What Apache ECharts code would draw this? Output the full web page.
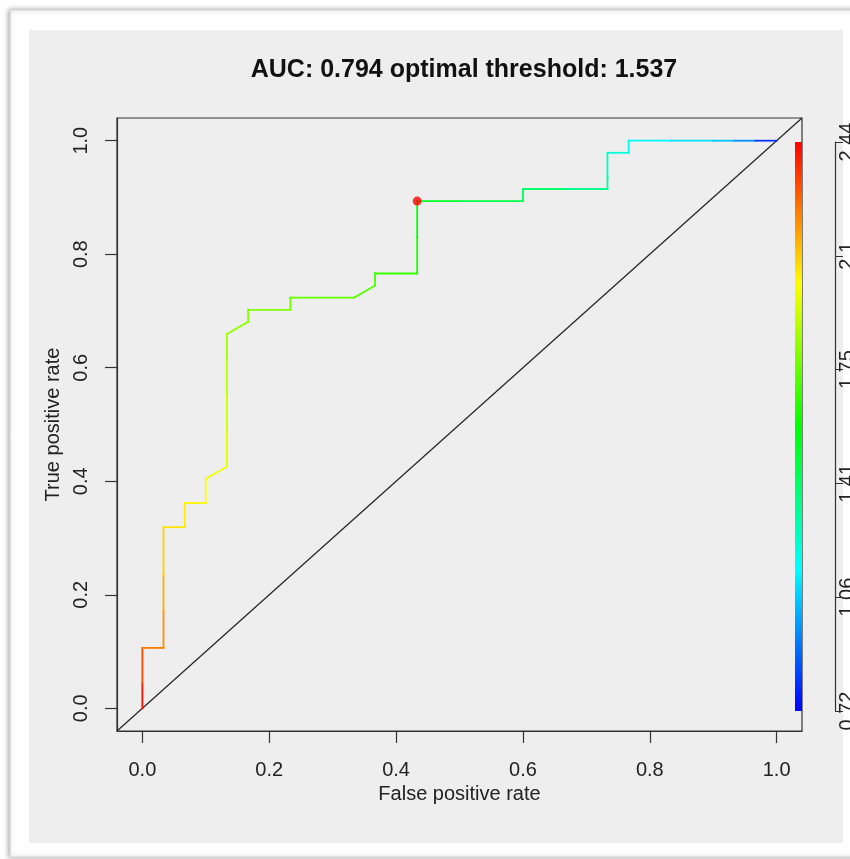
<!DOCTYPE html>
<html><head><meta charset="utf-8">
<script src="https://cdn.jsdelivr.net/npm/echarts@6/dist/echarts.min.js"></script>
<style>html,body{margin:0;padding:0;background:#fff;}#c{width:850px;height:859px;}</style>
</head><body><div id="c"></div>
<script>
const titleText = 'AUC: 0.794 optimal threshold: 1.537';
const xName = 'False positive rate';
const yName = 'True positive rate';
const axisTicks = [0, 0.2, 0.4, 0.6, 0.8, 1.0];
// ROC curve points (false positive rate, true positive rate, cutoff)
const fpr = [0, 0, 0, 0.0333, 0.0333, 0.0333, 0.0333, 0.0667, 0.0667, 0.1, 0.1, 0.1333, 0.1333, 0.1333, 0.1333, 0.1333, 0.1667, 0.1667, 0.2333, 0.2333, 0.3333, 0.3667, 0.3667, 0.4333, 0.4333, 0.4333, 0.5, 0.6, 0.6, 0.6667, 0.7333, 0.7333, 0.7333, 0.7667, 0.7667, 0.8333, 0.9, 0.9333, 0.9667, 1];
const tpr = [0, 0.0426, 0.1064, 0.1064, 0.1702, 0.234, 0.3191, 0.3191, 0.3617, 0.3617, 0.4043, 0.4255, 0.4894, 0.5532, 0.617, 0.6596, 0.6809, 0.7021, 0.7021, 0.7234, 0.7234, 0.7447, 0.766, 0.766, 0.8298, 0.8936, 0.8936, 0.8936, 0.9149, 0.9149, 0.9149, 0.9362, 0.9787, 0.9787, 1, 1, 1, 1, 1, 1];
const cutoff = [2.44, 2.40, 2.25, 2.22, 2.17, 2.12, 2.06, 2.05, 2.03, 2.02, 2.00, 1.98, 1.95, 1.91, 1.87, 1.84, 1.82, 1.80, 1.78, 1.76, 1.73, 1.71, 1.69, 1.66, 1.60, 1.537, 1.50, 1.44, 1.42, 1.38, 1.32, 1.29, 1.24, 1.20, 1.17, 1.12, 1.08, 1.02, 0.90, 0.72];
const optimalPoint = [0.4333, 0.8936];
const cutoffRange = [0.72, 2.44];
const colorTickValues = [0.72, 1.064, 1.408, 1.752, 2.096, 2.44];
const colorTickLabels = ['0.72', '1.06', '1.41', '1.75', '2.1', '2.44'];
const diagonal = [[-0.04, -0.04], [1.04, 1.04]];
const palette = ['#0000FF', '#00FFFF', '#00FF00', '#FFFF00', '#FF0000'];

const segments = [];
for (let i = 0; i < fpr.length - 1; i++) {
  segments.push([fpr[i], tpr[i], fpr[i + 1], tpr[i + 1], (cutoff[i] + cutoff[i + 1]) / 2]);
}

const FONT = "'Liberation Sans', Arial, Helvetica, sans-serif";
const chart = echarts.init(document.getElementById('c'), null, {renderer: 'canvas'});
const labelFmt = v => Number(v).toFixed(1);
const colorLabelFmt = v => {
  const i = colorTickValues.findIndex(t => Math.abs(t - v) < 1e-6);
  return i >= 0 ? colorTickLabels[i] : '';
};
// gradient stops: palette from bottom (min) to top (max)
const barStops = palette.map((c, i) => ({offset: 1 - i / (palette.length - 1), color: c}));

chart.setOption({
  backgroundColor: '#ffffff',
  animation: false,
  graphic: [
    {type: 'rect', z: -10, shape: {x: 10, y: 10, width: 860, height: 847},
     style: {fill: '#ffffff', stroke: '#d6d6d6', lineWidth: 1, shadowBlur: 5, shadowColor: 'rgba(0,0,0,0.35)', shadowOffsetX: -1, shadowOffsetY: 0}},
    {type: 'rect', z: -9, shape: {x: 29, y: 30, width: 814, height: 813}, style: {fill: '#eeeeee'}}
  ],
  title: {
    text: titleText, left: 459, top: 53, textAlign: 'center',
    textStyle: {fontFamily: FONT, fontSize: 25, fontWeight: 'bold', color: '#111'}
  },
  grid: [
    {left: 117, top: 118, right: 48, bottom: 128, show: true, borderColor: '#333', borderWidth: 1.2, backgroundColor: 'transparent', containLabel: false, outerBoundsMode: 'none'},
    {left: 835, top: 142, width: 20, height: 569, show: false, containLabel: false, outerBoundsMode: 'none'}
  ],
  xAxis: [
    {type: 'value', gridIndex: 0, min: -0.04, max: 1.04,
     name: xName, nameLocation: 'middle', nameGap: 53,
     nameTextStyle: {fontFamily: FONT, fontSize: 20, color: '#222'},
     axisLine: {show: true, onZero: false, lineStyle: {color: '#333', width: 1.2}},
     axisTick: {show: true, customValues: axisTicks, length: 12, lineStyle: {color: '#333', width: 1.2}},
     axisLabel: {customValues: axisTicks, formatter: labelFmt, fontFamily: FONT, fontSize: 20, color: '#222', margin: 29},
     splitLine: {show: false}},
    {type: 'value', gridIndex: 1, min: 0, max: 1, show: false}
  ],
  yAxis: [
    {type: 'value', gridIndex: 0, min: -0.04, max: 1.04,
     name: yName, nameLocation: 'middle', nameGap: 50, nameRotate: 90,
     nameTextStyle: {fontFamily: FONT, fontSize: 20, color: '#222'},
     axisLine: {show: true, onZero: false, lineStyle: {color: '#333', width: 1.2}},
     axisTick: {show: true, customValues: axisTicks, length: 12, lineStyle: {color: '#333', width: 1.2}},
     axisLabel: {customValues: axisTicks, formatter: labelFmt, rotate: 90, fontFamily: FONT, fontSize: 20, color: '#222', margin: 26},
     splitLine: {show: false}},
    {type: 'value', gridIndex: 1, min: cutoffRange[0], max: cutoffRange[1], position: 'left',
     axisLine: {show: true, onZero: false, lineStyle: {color: '#333', width: 1.2}},
     axisTick: {show: true, inside: true, customValues: colorTickValues, length: 8, lineStyle: {color: '#333'}},
     axisLabel: {customValues: colorTickValues, formatter: colorLabelFmt, rotate: 90, inside: true, margin: 2, fontFamily: FONT, fontSize: 20, color: '#222'},
     splitLine: {show: false}}
  ],
  visualMap: {
    type: 'continuous', seriesIndex: 1, dimension: 4,
    min: cutoffRange[0], max: cutoffRange[1],
    inRange: {color: palette}, show: false
  },
  series: [
    {type: 'line', xAxisIndex: 0, yAxisIndex: 0, data: diagonal, symbol: 'none', silent: true,
     lineStyle: {color: '#222', width: 1.2}, z: 2},
    {type: 'custom', xAxisIndex: 0, yAxisIndex: 0, data: segments, z: 3,
     dimensions: ['x1', 'y1', 'x2', 'y2', 'cutoff'],
     encode: {x: [0, 2], y: [1, 3]},
     renderItem: (params, api) => {
       const p1 = api.coord([api.value(0), api.value(1)]);
       const p2 = api.coord([api.value(2), api.value(3)]);
       return {type: 'line', shape: {x1: p1[0], y1: p1[1], x2: p2[0], y2: p2[1]},
               style: {stroke: api.visual('color'), lineWidth: 1.8, lineCap: 'square'}};
     }},
    {type: 'scatter', xAxisIndex: 0, yAxisIndex: 0, data: [optimalPoint], symbol: 'circle', symbolSize: 9,
     itemStyle: {color: '#FF0000'}, z: 5},
    // colour key bar spanning the cutoff range, placed just inside the plot's right border
    {type: 'custom', xAxisIndex: 1, yAxisIndex: 1, data: [[0, cutoffRange[0], cutoffRange[1]]], z: 4, silent: true,
     renderItem: (params, api) => {
       const top = api.coord([0, api.value(2)]);
       const bot = api.coord([0, api.value(1)]);
       const x = params.coordSys.x - 40;
       return {type: 'rect', shape: {x: x, y: top[1], width: 7, height: bot[1] - top[1]},
               style: {fill: new echarts.graphic.LinearGradient(0, 0, 0, 1, barStops)}};
     }}
  ]
});
</script></body></html>
